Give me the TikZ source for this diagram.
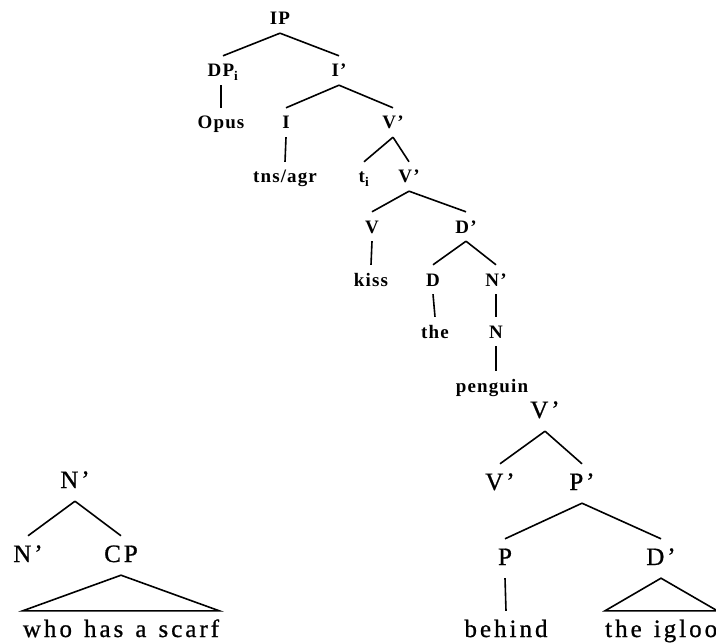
\documentclass[tikz,border=0pt]{standalone}
\usepackage{fontspec}
\setmainfont{Liberation Serif}
\newfontfamily\catfont[Ligatures=TeX, LetterSpace=6]{Liberation Serif}
\newfontfamily\wordfont[Ligatures=TeX, LetterSpace=12, WordSpace=1.3, FakeBold=0.8]{Liberation Serif}
\usetikzlibrary{positioning}

\tikzset{
  smallcat/.style={font=\catfont\bfseries\fontsize{19bp}{22bp}\selectfont,
    anchor=base, inner sep=0pt, text height=21bp, text depth=8bp},
  bigcat/.style={font=\wordfont\fontsize{25bp}{29bp}\selectfont,
    anchor=base, inner sep=0pt, text height=26bp, text depth=13bp},
  branch/.style={line width=1.6bp}
}

\begin{document}
\begin{tikzpicture}[x=1bp, y=-1bp]
            \useasboundingbox (0,0) rectangle (716,644);

            % upper tree
            \node (ip) [smallcat] at (280,25) {IP};
            \node (dp) [smallcat] at (223,77) {DP\textsubscript{i}};
            \node (ibar) [smallcat] at (339,77) {I'};
            \node (opus) [smallcat] at (221,129) {Opus};
            \node (infl) [smallcat] at (286,129) {I};
            \node (vbara) [smallcat] at (393,129) {V'};
            \node (agr) [smallcat] at (285,183) {tns/agr};
            \node (trace) [smallcat] at (364,183) {t\textsubscript{i}};
            \node (vbarb) [smallcat] at (409,183) {V'};
            \node (verb) [smallcat] at (372,233) {V};
            \node (dbara) [smallcat] at (466,233) {D'};
            \node (kiss) [smallcat] at (371,286) {kiss};
            \node (det) [smallcat] at (433,286) {D};
            \node (nbara) [smallcat] at (496,286) {N'};
            \node (the) [smallcat] at (435,338) {the};
            \node (noun) [smallcat] at (496,338) {N};
            \node (penguin) [smallcat] at (492,392) {penguin};

            \draw[branch] (ip.south) -- (dp.north);
            \draw[branch] (ip.south) -- (ibar.north);
            \draw[branch] (dp.south -| opus) -- (opus.north);
            \draw[branch] (ibar.south) -- (infl.north);
            \draw[branch] (ibar.south) -- (vbara.north);
            \draw[branch] (infl.south) -- (agr.north);
            \draw[branch] (vbara.south) -- (trace.north);
            \draw[branch] (vbara.south) -- (vbarb.north);
            \draw[branch] (vbarb.south) -- (verb.north);
            \draw[branch] (vbarb.south) -- (dbara.north);
            \draw[branch] (verb.south) -- (kiss.north);
            \draw[branch] (dbara.south) -- (det.north);
            \draw[branch] (dbara.south) -- (nbara.north);
            \draw[branch] (det.south) -- (the.north);
            \draw[branch] (nbara.south) -- (noun.north);
            \draw[branch] (noun.south) -- (noun.south |- penguin.north);

            % relative clause
            \node (nbarb) [bigcat] at (75,488) {N'};
            \node (nbarc) [bigcat] at (28,562) {N'};
            \node (cp) [bigcat] at (121,562) {CP};
            \node (scarf) [bigcat] at (121,637) {who has a scarf};

            \draw[branch] (nbarb.south) -- (nbarc.north);
            \draw[branch] (nbarb.south) -- (cp.north);
            \draw[branch] (cp.south) -- (scarf.north east) -- (scarf.north west) -- cycle;

            % adjunct
            \node (vbarc) [bigcat] at (545,418) {V'};
            \node (vbard) [bigcat] at (500,490) {V'};
            \node (pbar) [bigcat] at (582,490) {P'};
            \node (prep) [bigcat] at (505,565) {P};
            \node (dbarb) [bigcat] at (661,565) {D'};
            \node (behind) [bigcat] at (506,637) {behind};
            \node (igloo) [bigcat, anchor=base west] at (605,637) {the igloo};

            \draw[branch] (vbarc.south) -- (vbard.north);
            \draw[branch] (vbarc.south) -- (pbar.north);
            \draw[branch] (pbar.south) -- (prep.north);
            \draw[branch] (pbar.south) -- (dbarb.north);
            \draw[branch] (prep.south) -- (behind.north);
            \draw[branch] (dbarb.south) -- (igloo.north east) -- (igloo.north west) -- cycle;

\end{tikzpicture}
\end{document}
